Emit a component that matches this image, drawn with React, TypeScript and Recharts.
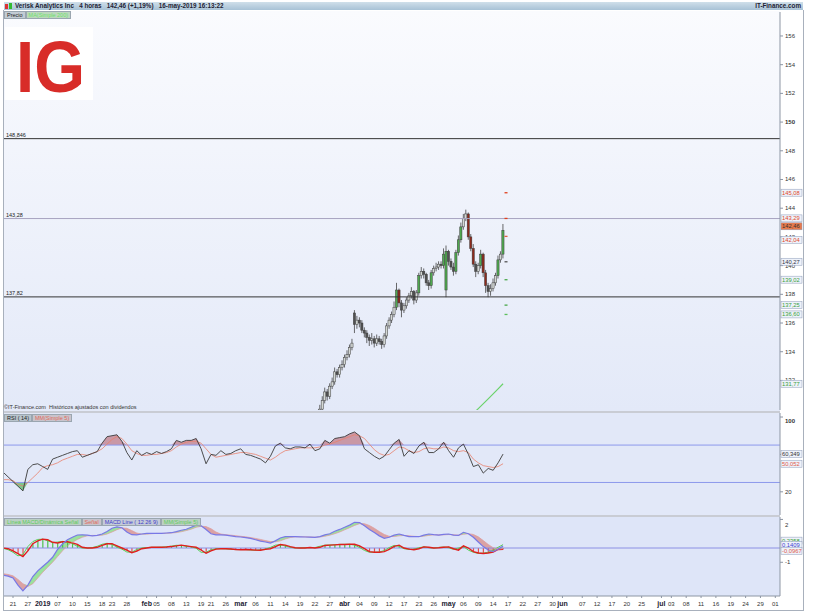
import React from 'react';
import { ComposedChart, Bar, Line, Area, XAxis, YAxis, ReferenceLine, ReferenceDot, Cell } from 'recharts';

// trading day index: 0 = 17-dic-2018
const X_DOMAIN: [number, number] = [2.18, 158.95];
const PRICE_DOMAIN: [number, number] = [129.94, 157.67];
const RSI_DOMAIN: [number, number] = [-4.8, 104.3];
const MACD_DOMAIN: [number, number] = [-3.36, 2.17];

const DATE_TICK_DAYS = [4, 7, 10, 13, 16, 19, 22, 24, 27, 31, 33, 36, 39, 42, 44, 47, 50, 53, 56, 59, 62, 65, 68, 71, 74, 77, 80, 83, 86, 89, 92, 95, 98, 101, 104, 107, 110, 113, 115, 119, 122, 125, 128, 131, 135, 137, 140, 143, 146, 149, 152, 155, 158];
const DATE_TICK_LABELS = ['21', '27', '2019', '07', '10', '15', '18', '23', '28', 'feb', '05', '08', '13', '19', '21', '26', 'mar', '06', '11', '14', '19', '22', '27', 'abr', '04', '09', '12', '17', '23', '26', 'may', '06', '09', '14', '17', '22', '27', '30', 'jun', '07', '12', '17', '20', '25', 'jul', '03', '08', '11', '16', '19', '24', '29', '01'];
const BOLD_LABELS = ['2019', 'feb', 'mar', 'abr', 'may', 'jun', 'jul'];

// velas de 4 horas (2 por sesión), desde el día 66
const CANDLE_FIRST_DAY = 66;
const candleOpen = [129.6, 130.0, 130.6, 131.2, 130.9, 131.6, 131.9, 132.6, 132.4, 132.9, 133.1, 133.6, 133.8, 134.3, 136.7, 135.9, 136.2, 136.0, 135.5, 135.3, 135.0, 134.8, 134.9, 134.6, 134.9, 134.7, 134.5, 135.1, 135.8, 136.2, 136.6, 137.1, 138.3, 137.4, 136.9, 137.2, 137.6, 137.9, 138.2, 137.6, 138.1, 139.3, 139.6, 139.4, 138.8, 138.6, 139.5, 139.8, 139.9, 140.1, 140.0, 138.3, 141.0, 140.3, 139.9, 139.6, 140.9, 141.8, 142.7, 143.3, 143.6, 142.0, 141.2, 140.1, 139.6, 140.0, 140.8, 139.5, 138.6, 138.2, 138.4, 138.8, 139.3, 140.4, 140.8];
const candleHigh = [130.3, 130.9, 131.5, 131.4, 131.8, 132.2, 132.9, 132.8, 133.1, 133.4, 133.8, 134.1, 134.5, 134.9, 136.9, 136.5, 136.4, 136.2, 135.7, 135.5, 135.2, 135.3, 135.1, 135.2, 135.1, 134.9, 135.3, 136.0, 136.4, 136.8, 137.5, 138.8, 138.4, 137.6, 137.4, 137.8, 138.1, 138.5, 138.3, 138.3, 139.5, 139.9, 139.8, 139.5, 139.0, 139.7, 140.0, 140.2, 140.3, 140.3, 141.2, 141.4, 141.1, 140.5, 140.2, 141.1, 142.1, 143.0, 143.6, 143.9, 143.7, 142.2, 141.5, 140.3, 140.2, 141.1, 140.9, 139.7, 138.8, 138.7, 139.1, 139.5, 140.7, 141.0, 142.9];
const candleLow = [129.4, 129.8, 130.4, 130.6, 130.7, 131.4, 131.7, 132.2, 132.2, 132.7, 132.9, 133.4, 133.6, 134.1, 135.3, 135.6, 135.7, 135.3, 135.0, 134.6, 134.4, 134.5, 134.3, 134.4, 134.5, 134.2, 134.3, 134.9, 135.6, 136.0, 136.4, 136.9, 137.1, 136.4, 136.7, 137.0, 137.4, 137.7, 137.3, 137.4, 137.9, 139.1, 139.1, 138.6, 138.3, 138.4, 139.3, 139.6, 139.7, 139.8, 139.8, 137.8, 140.0, 139.7, 139.3, 139.4, 140.7, 141.6, 142.5, 143.1, 141.8, 141.0, 139.9, 139.2, 139.4, 139.8, 139.2, 138.1, 137.8, 137.9, 138.2, 138.6, 139.1, 140.2, 140.5];
const candleClose = [130.0, 130.6, 131.2, 130.9, 131.6, 131.9, 132.6, 132.4, 132.9, 133.1, 133.6, 133.8, 134.3, 134.6, 135.9, 136.2, 136.0, 135.5, 135.3, 135.0, 134.8, 134.9, 134.6, 134.9, 134.7, 134.5, 135.1, 135.8, 136.2, 136.6, 137.1, 138.3, 137.4, 136.9, 137.2, 137.6, 137.9, 138.2, 137.6, 138.1, 139.3, 139.6, 139.4, 138.8, 138.6, 139.5, 139.8, 139.9, 140.1, 140.0, 140.8, 141.0, 140.3, 139.9, 139.6, 140.9, 141.8, 142.7, 143.3, 143.6, 142.0, 141.2, 140.1, 139.6, 140.0, 140.8, 139.5, 138.6, 138.2, 138.4, 138.8, 139.3, 140.4, 140.8, 142.46];

// MA(Simple 200)
const ma200Days = [96, 98, 100, 102, 103];
const ma200Values = [129.36, 130.04, 130.72, 131.41, 131.77];

const PRICE_TICKS = [132, 134, 136, 138, 140, 142, 144, 146, 148, 150, 152, 154, 156];
const PRICE_LINES = [148.846, 143.28, 137.82];
const PRICE_LINE_LABELS = ['148,846', '143,28', '137,82'];
const PRICE_LINE_COLORS = ['#333', '#a8a4c0', '#333'];

// niveles proyectados a la derecha de la última vela
const pivotValues = [145.08, 143.29, 142.04, 140.27, 139.02, 137.25, 136.6];
const pivotColors = ['#e0401c', '#e0401c', '#e06040', '#555', '#4aa84a', '#4aa84a', '#5cc05c'];

const priceBoxValues = [145.08, 143.29, 142.46, 142.04, 140.27, 139.02, 137.25, 136.6, 131.77];
const priceBoxLabels = ['145,08', '143,29', '142,46', '142,04', '140,27', '139,02', '137,25', '136,60', '131,77'];
const priceBoxColors = ['#e04a2a', '#e04a2a', '#333', '#e04a2a', '#334', '#3aa03a', '#3aa03a', '#3aa03a', '#3aa03a'];
const priceBoxShift = [0, 0, -4, 3.5, 0, 0, 0, 0, 0];

// indicadores diarios desde el día 2
const INDICATOR_FIRST_DAY = 2;
const rsi = [41, 36, 31, 26, 21, 44, 49, 50, 47, 44, 55, 57, 59, 61, 63, 64, 57, 59, 61, 63, 72, 79, 80, 81, 74, 62, 54, 64, 59, 62, 60, 63, 61, 63, 66, 75, 73, 75, 75, 77, 66, 50, 60, 59, 64, 60, 61, 64, 66, 60, 59, 57, 55, 51, 58, 69, 72, 67, 66, 68, 68, 67, 71, 64, 66, 75, 72, 77, 78, 79, 82, 84, 80, 66, 62, 58, 55, 58, 65, 72, 76, 58, 64, 61, 69, 73, 62, 62, 66, 73, 64, 57, 67, 71, 60, 47, 49, 40, 45, 43, 51, 60.35];
const rsiMa = [33, 33, 32, 28, 26, 30, 35, 40, 46, 48, 49, 51, 54, 56, 58, 60, 60, 59, 61, 63, 66, 71, 76, 79, 77, 71, 64, 61, 59, 59, 60, 60, 61, 62, 64, 68, 71, 73, 74, 74, 72, 66, 60, 57, 58, 59, 60, 61, 62, 62, 61, 60, 58, 56, 54, 57, 61, 64, 65, 66, 67, 67, 67, 67, 68, 70, 71, 73, 75, 77, 79, 81, 80, 77, 71, 65, 61, 59, 60, 64, 68, 67, 64, 62, 63, 66, 67, 66, 66, 68, 67, 64, 63, 64, 62, 55, 51, 48, 47, 46, 47, 50.05];
const macdLine = [-1.9, -1.97, -2.1, -2.6, -3.0, -2.6, -2.0, -1.6, -1.3, -1.0, -0.65, -0.1, 0.28, 0.58, 0.75, 0.91, 0.92, 0.9, 0.85, 0.88, 0.98, 1.15, 1.38, 1.48, 1.42, 1.12, 0.93, 0.92, 0.98, 1.03, 1.03, 1.02, 1.03, 1.05, 1.07, 1.15, 1.24, 1.31, 1.45, 1.6, 1.55, 1.3, 1.0, 0.92, 0.92, 0.9, 0.85, 0.8, 0.77, 0.72, 0.67, 0.58, 0.48, 0.42, 0.35, 0.5, 0.7, 0.8, 0.8, 0.79, 0.78, 0.77, 0.76, 0.75, 0.8, 0.92, 1.0, 1.17, 1.3, 1.45, 1.6, 1.8, 1.78, 1.55, 1.3, 1.08, 0.85, 0.68, 0.75, 0.9, 0.98, 0.88, 0.8, 0.8, 0.79, 0.9, 0.98, 0.93, 0.9, 0.95, 0.98, 0.9, 0.88, 1.1, 1.0, 0.75, 0.42, 0.1, -0.14, -0.26, -0.09, 0.1409];
const macdSignal = [-1.8, -1.85, -1.95, -2.2, -2.5, -2.7, -2.5, -2.1, -1.7, -1.35, -1.0, -0.6, -0.2, 0.15, 0.4, 0.6, 0.75, 0.85, 0.88, 0.88, 0.9, 0.98, 1.12, 1.28, 1.4, 1.38, 1.22, 1.05, 0.97, 0.97, 1.0, 1.02, 1.02, 1.03, 1.05, 1.08, 1.14, 1.22, 1.32, 1.45, 1.52, 1.5, 1.35, 1.12, 0.98, 0.93, 0.9, 0.86, 0.82, 0.78, 0.73, 0.67, 0.6, 0.52, 0.45, 0.43, 0.5, 0.63, 0.73, 0.78, 0.79, 0.78, 0.77, 0.76, 0.77, 0.82, 0.9, 1.0, 1.12, 1.27, 1.42, 1.58, 1.7, 1.7, 1.58, 1.38, 1.15, 0.95, 0.82, 0.8, 0.85, 0.88, 0.85, 0.82, 0.8, 0.83, 0.88, 0.92, 0.92, 0.92, 0.94, 0.93, 0.9, 0.96, 1.0, 0.95, 0.78, 0.52, 0.25, 0.02, -0.08, -0.05];
const histRed = [0, -0.05, -0.2, -0.4, -0.6, -0.2, 0.3, 0.5, 0.62, 0.58, 0.4, 0.35, 0.44, 0.44, 0.36, 0.25, 0.05, 0, 0, 0.05, 0.18, 0.3, 0.3, 0.15, 0, -0.15, -0.33, -0.22, -0.05, 0, 0.05, 0.05, 0.05, 0.07, 0.1, 0.15, 0.2, 0.15, 0.1, 0.05, -0.14, -0.37, -0.2, -0.08, -0.05, -0.05, -0.07, -0.1, -0.12, -0.1, -0.12, -0.15, -0.16, -0.1, -0.05, 0.1, 0.24, 0.2, 0.1, 0.02, 0, 0, 0.03, 0, 0.05, 0.18, 0.2, 0.22, 0.24, 0.25, 0.26, 0.26, 0.15, -0.05, -0.25, -0.3, -0.3, -0.25, -0.1, 0.12, 0.2, 0, -0.08, -0.12, -0.05, 0.08, 0.05, 0, 0.02, 0.05, 0.08, -0.05, -0.15, 0.15, 0, -0.25, -0.35, -0.38, -0.35, -0.28, -0.1, -0.0967];
const histGreen = [-0.02, -0.12, -0.3, -0.55, -0.45, 0.1, 0.45, 0.6, 0.62, 0.5, 0.38, 0.42, 0.46, 0.4, 0.3, 0.12, 0, 0, 0.03, 0.12, 0.26, 0.33, 0.25, 0.06, -0.08, -0.28, -0.3, -0.1, 0, 0.03, 0.05, 0.05, 0.06, 0.09, 0.13, 0.19, 0.18, 0.12, 0.08, -0.02, -0.3, -0.3, -0.12, -0.05, -0.05, -0.06, -0.09, -0.11, -0.11, -0.11, -0.14, -0.16, -0.13, -0.07, 0.04, 0.2, 0.23, 0.14, 0.05, 0, 0, 0.02, 0.02, 0.03, 0.12, 0.2, 0.21, 0.23, 0.25, 0.26, 0.26, 0.2, 0.04, -0.17, -0.3, -0.3, -0.28, -0.18, 0.03, 0.18, 0.12, -0.05, -0.1, -0.08, 0.02, 0.08, 0.02, 0, 0.04, 0.07, 0.02, -0.1, 0, 0.1, -0.15, -0.3, -0.38, -0.36, -0.3, -0.15, 0.05, 0.2358];

const RSI_TICKS = [20, 40, 60, 80, 100];
const MACD_TICKS = [-2, -1, 1, 2];

const rsiBoxValues = [60.349, 50.052];
const rsiBoxLabels = ['60,349', '50,052'];
const rsiBoxColors = ['#333', '#e05a4a'];
const macdBoxValues = [0.2358, 0.1409, -0.0967];
const macdBoxLabels = ['0,2358', '0,1409', '-0,0967'];
const macdBoxColors = ['#3aa03a', '#4040d0', '#e05a4a'];
const macdBoxShift = [-4, -1, 1.5];

const candleRows = candleClose.map((c, i) => {
  const x = CANDLE_FIRST_DAY + i * 0.5;
  const m = ma200Days.indexOf(x);
  return { x, open: candleOpen[i], high: candleHigh[i], low: candleLow[i], close: c, ma: m >= 0 ? ma200Values[m] : null };
});

const indicatorRows = rsi.map((v, i) => ({
  x: INDICATOR_FIRST_DAY + i,
  rsi: v,
  rsiMa: rsiMa[i],
  macd: macdLine[i],
  signal: macdSignal[i],
  hRed: histRed[i],
  hGreen: histGreen[i],
}));

const FONT = '"Liberation Sans", Arial, sans-serif';

const Candle = (props: any) => {
  const { x, y, width, height, payload } = props;
  if (!payload || x == null) return null;
  const top = Math.min(y, y + height);
  const h = Math.abs(height);
  const span = payload.high - payload.low || 1;
  const toY = (v: number) => top + ((payload.high - v) / span) * h;
  const cx = x + width / 2;
  const move = payload.close - payload.open;
  const fill = move >= 0.8 ? '#4fa84f' : move <= -0.8 ? '#8c2a1c' : move >= 0 ? '#d4d8d4' : '#505050';
  const yo = toY(payload.open);
  const yc = toY(payload.close);
  return (
    <g>
      <line x1={cx} x2={cx} y1={top} y2={top + h} stroke="#444" strokeWidth={0.8} />
      <rect x={cx - 1.1} y={Math.min(yo, yc)} width={2.2} height={Math.max(Math.abs(yc - yo), 0.8)}
        fill={fill} stroke="#3c3c3c" strokeWidth={0.5} />
    </g>
  );
};

const axisTick = (bold: number[]) => (props: any) => {
  const { x, y, payload } = props;
  return (
    <text x={x} y={y + 2} fontSize={6} fill="#333" fontFamily={FONT} fontWeight={bold.includes(payload.value) ? 700 : 400}>
      {payload.value}
    </text>
  );
};

const DateTick = (props: any) => {
  const { x, y, payload } = props;
  const i = DATE_TICK_DAYS.indexOf(payload.value);
  const label = DATE_TICK_LABELS[i] ?? '';
  const bold = BOLD_LABELS.includes(label);
  return (
    <text x={x} y={y + 6} textAnchor="middle" fontSize={bold ? 7 : 6} fontWeight={bold ? 700 : 400} fill={bold ? '#223' : '#333'} fontFamily={FONT}>
      {label}
    </text>
  );
};

const valueBox = (label: string, color: string, shift: number, fill = '#eef2fa') => (p: any) => (
  <g>
    <rect x={p.cx + 1} y={p.cy - 3.5 + shift} width={21} height={7} fill={fill} stroke="#8c9ab8" strokeWidth={0.5} />
    <text x={p.cx + 2} y={p.cy + 2 + shift} fontSize={5.8} fill={color} fontFamily={FONT}>{label}</text>
  </g>
);

const pivotMark = (color: string) => (p: any) => (
  <rect x={p.cx - 1.5} y={p.cy - 0.6} width={3} height={1.3} fill={color} />
);

// capa transparente encima de los ejes, para las cajas de valor a la derecha
const BoxLayer = ({ height, top, bottom, domain, values, labels, colors, shifts, fills }: any) => (
  <ComposedChart width={813} height={height} data={[{ x: X_DOMAIN[0] }, { x: X_DOMAIN[1] }]}
    margin={{ top, right: 33, bottom, left: 4 }}>
    <XAxis dataKey="x" type="number" domain={X_DOMAIN} hide />
    <YAxis domain={domain} hide allowDataOverflow />
    {values.map((v: number, i: number) => (
      <ReferenceDot key={v} x={X_DOMAIN[1]} y={v} ifOverflow="visible"
        shape={valueBox(labels[i], colors[i], shifts ? shifts[i] : 0, fills ? fills[i] : '#eef2fa')} />
    ))}
  </ComposedChart>
);

const Tag = ({ text, color, bg }: { text: string; color: string; bg: string }) => (
  <span style={{ background: bg, color, padding: '0 2px', border: '1px solid #9aa6b0', lineHeight: '6px', display: 'inline-block' }}>{text}</span>
);

const abs = (left: number, top: number): React.CSSProperties => ({ position: 'absolute', left, top });

export default function App() {
  return (
    <div style={{ position: 'absolute', left: 0, top: 0, width: 813, height: 613, background: '#fff', overflow: 'hidden', fontFamily: FONT }}>
      {/* cabecera */}
      <div style={{ position: 'absolute', left: 4, top: 2, width: 799, height: 8, background: 'linear-gradient(#cfdfea, #a8c2d6)', fontSize: 6.3, fontWeight: 700, color: '#223', lineHeight: '8px' }}>
        <span style={{ display: 'inline-block', width: 3, height: 5, background: '#d33', marginLeft: 1, marginRight: 1, verticalAlign: 'middle' }} />
        <span style={{ display: 'inline-block', width: 3, height: 6, background: '#3b3', marginRight: 3, verticalAlign: 'middle' }} />
        Verisk Analytics Inc&nbsp;&nbsp;&nbsp;4 horas&nbsp;&nbsp;&nbsp;142,46 (+1,19%)&nbsp;&nbsp;&nbsp;16-may-2019 16:13:22
        <span style={{ position: 'absolute', right: 2, top: 0 }}>IT-Finance.com</span>
      </div>

      {/* fondos de los paneles */}
      <div style={{ position: 'absolute', left: 4, top: 11, width: 776, height: 400, background: 'linear-gradient(#fafbfe, #e3e9f8)' }} />
      <div style={{ position: 'absolute', left: 4, top: 411, width: 776, height: 2, background: '#c9ccd4' }} />
      <div style={{ position: 'absolute', left: 4, top: 413, width: 776, height: 102, background: '#e2e8f8' }} />
      <div style={{ position: 'absolute', left: 4, top: 515, width: 776, height: 2, background: '#c9ccd4' }} />
      <div style={{ position: 'absolute', left: 4, top: 517, width: 776, height: 79, background: '#dee5f8' }} />
      <div style={{ position: 'absolute', left: 3, top: 10, width: 1, height: 600, background: '#a8b0bc' }} />
      <div style={{ position: 'absolute', left: 803, top: 10, width: 1, height: 600, background: '#a8b0bc' }} />
      <div style={{ position: 'absolute', left: 3, top: 610, width: 801, height: 1, background: '#a8b0bc' }} />

      {/* logo */}
      <div style={{ position: 'absolute', left: 5, top: 27, width: 88, height: 73, background: '#fff' }} />
      <svg style={abs(0, 0)} width={110} height={120}>
        <text x={16} y={92} fontSize={72} fontWeight={700} fill="#d82c28" fontFamily={FONT} textLength={69} lengthAdjust="spacingAndGlyphs">IG</text>
      </svg>

      <div style={abs(0, 0)}>
        <ComposedChart width={813} height={411} data={candleRows} margin={{ top: 12, right: 0, bottom: 1, left: 4 }}>
          <XAxis dataKey="x" type="number" domain={X_DOMAIN} hide allowDataOverflow />
          <YAxis orientation="right" domain={PRICE_DOMAIN} ticks={PRICE_TICKS} width={33} allowDataOverflow
            tick={axisTick([150])} tickSize={3} stroke="#8d96a4" />
          {PRICE_LINES.map((v, i) => (
            <ReferenceLine key={v} y={v} stroke={PRICE_LINE_COLORS[i]} strokeWidth={1}
              label={{ value: PRICE_LINE_LABELS[i], position: 'insideBottomLeft', offset: 2, fontSize: 5.5, fill: '#222' }} />
          ))}
          <Bar dataKey={(d: any) => [d.low, d.high]} shape={Candle} barSize={3} isAnimationActive={false} />
          <Line dataKey="ma" stroke="#6ad26a" strokeWidth={1.2} dot={false} connectNulls isAnimationActive={false} />
          {pivotValues.map((v, i) => (
            <ReferenceDot key={'p' + v} x={103.6} y={v} shape={pivotMark(pivotColors[i])} ifOverflow="visible" />
          ))}
        </ComposedChart>
      </div>
      <div style={abs(0, 0)}>
        <BoxLayer height={411} top={12} bottom={1} domain={PRICE_DOMAIN} values={priceBoxValues} labels={priceBoxLabels}
          colors={priceBoxColors} shifts={priceBoxShift} fills={priceBoxValues.map((_, i) => (i === 2 ? '#e87a4c' : '#eef2fa'))} />
      </div>

      <div style={abs(0, 412)}>
        <ComposedChart width={813} height={104} data={indicatorRows} margin={{ top: 1, right: 0, bottom: 1, left: 4 }}>
          <XAxis dataKey="x" type="number" domain={X_DOMAIN} hide allowDataOverflow />
          <YAxis orientation="right" domain={RSI_DOMAIN} ticks={RSI_TICKS} width={33} allowDataOverflow
            tick={axisTick([100])} tickSize={3} stroke="#8d96a4" />
          <Area dataKey={(d: any) => [70, Math.max(d.rsi, 70)]} fill="#c48a98" fillOpacity={0.85} stroke="none" isAnimationActive={false} />
          <Area dataKey={(d: any) => [Math.min(d.rsi, 30), 30]} fill="#6cbf7a" fillOpacity={0.85} stroke="none" isAnimationActive={false} />
          <ReferenceLine y={70} stroke="#8c98ec" strokeWidth={1} />
          <ReferenceLine y={30} stroke="#8c98ec" strokeWidth={1} />
          <Line dataKey="rsiMa" stroke="#e8806c" strokeWidth={0.8} dot={false} isAnimationActive={false} />
          <Line dataKey="rsi" stroke="#3a3a3a" strokeWidth={0.9} dot={false} isAnimationActive={false} />
        </ComposedChart>
      </div>
      <div style={abs(0, 412)}>
        <BoxLayer height={104} top={1} bottom={1} domain={RSI_DOMAIN} values={rsiBoxValues} labels={rsiBoxLabels} colors={rsiBoxColors} />
      </div>

      <div style={abs(0, 516)}>
        <ComposedChart width={813} height={97} data={indicatorRows} margin={{ top: 1, right: 0, bottom: 0, left: 4 }}>
          <XAxis dataKey="x" type="number" domain={X_DOMAIN} ticks={DATE_TICK_DAYS} tick={<DateTick />} height={17}
            allowDataOverflow interval={0} tickSize={2} stroke="#8d96a4" />
          <YAxis orientation="right" domain={MACD_DOMAIN} ticks={MACD_TICKS} width={33} allowDataOverflow
            tick={axisTick([])} tickSize={3} stroke="#8d96a4" />
          <Area dataKey={(d: any) => [d.signal, Math.max(d.macd, d.signal)]} fill="#92e092" fillOpacity={0.9} stroke="none" isAnimationActive={false} />
          <Area dataKey={(d: any) => [Math.min(d.macd, d.signal), d.signal]} fill="#d99a9a" fillOpacity={0.9} stroke="none" isAnimationActive={false} />
          <ReferenceLine y={0} stroke="#8c90e4" strokeWidth={1} />
          <Bar dataKey="hRed" barSize={1.2} isAnimationActive={false}>
            {indicatorRows.map((r) => (
              <Cell key={r.x} fill={r.hRed >= 0 ? '#4cc24c' : '#e05050'} />
            ))}
          </Bar>
          <Line dataKey="hGreen" stroke="#58d058" strokeWidth={1} dot={false} isAnimationActive={false} />
          <Line dataKey="hRed" stroke="#e01e1e" strokeWidth={1.4} dot={false} isAnimationActive={false} />
          <Line dataKey="signal" stroke="#e09a9a" strokeWidth={0.7} dot={false} isAnimationActive={false} />
          <Line dataKey="macd" stroke="#7878e6" strokeWidth={1.2} dot={false} isAnimationActive={false} />
        </ComposedChart>
      </div>
      <div style={abs(0, 516)}>
        <BoxLayer height={97} top={1} bottom={17} domain={MACD_DOMAIN} values={macdBoxValues} labels={macdBoxLabels}
          colors={macdBoxColors} shifts={macdBoxShift} />
      </div>

      {/* etiquetas de los paneles */}
      <div style={{ position: 'absolute', left: 4, top: 11, fontSize: 5.5, whiteSpace: 'nowrap' }}>
        <Tag text="Precio" color="#222" bg="#c3ccd4" />
        <Tag text="MA(Simple 200)" color="#6ee06e" bg="#bcd8bc" />
      </div>
      <div style={{ position: 'absolute', left: 4, top: 404, fontSize: 5.5, color: '#333', whiteSpace: 'nowrap' }}>
        ©IT-Finance.com&nbsp;&nbsp;Históricos ajustados con dividendos
      </div>
      <div style={{ position: 'absolute', left: 4, top: 414, fontSize: 5.5, whiteSpace: 'nowrap' }}>
        <Tag text="RSI ( 14)" color="#222" bg="#b8c4cc" />
        <Tag text="MM(Simple 5)" color="#e06a5a" bg="#c9c4cc" />
      </div>
      <div style={{ position: 'absolute', left: 4, top: 518, fontSize: 5.5, whiteSpace: 'nowrap' }}>
        <Tag text="Línea MACD/Dinámica Señal" color="#5ccc5c" bg="#bcd0c4" />
        <Tag text="Señal" color="#e06a5a" bg="#c9c4cc" />
        <Tag text="MACD Line ( 12 26 9)" color="#4040c8" bg="#c4cad8" />
        <Tag text="MM(Simple 5)" color="#5ccc5c" bg="#bcd0c4" />
      </div>
    </div>
  );
}
